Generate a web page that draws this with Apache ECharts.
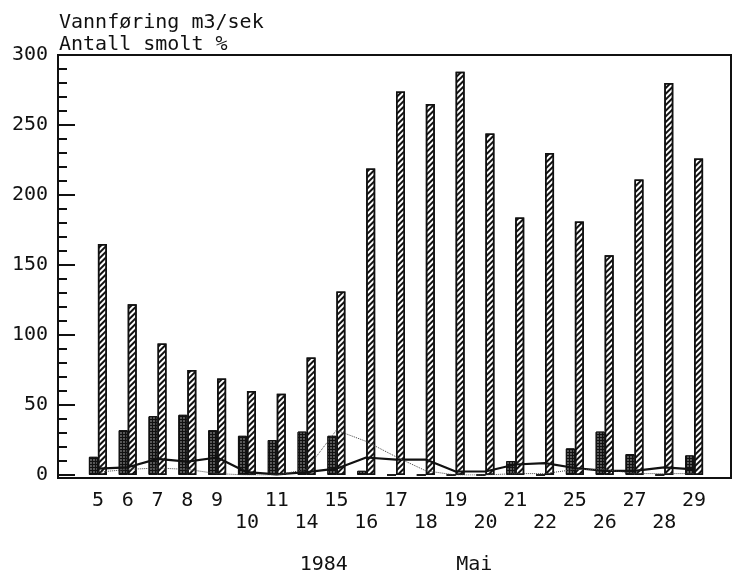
<!DOCTYPE html>
<html>
<head>
<meta charset="utf-8">
<script src="https://cdn.jsdelivr.net/npm/echarts@6/dist/echarts.min.js"></script>
<style>
  html, body { margin: 0; padding: 0; background: #fff; }
  #main { width: 732px; height: 580px; }
</style>
</head>
<body>
<div id="main"></div>
<script>
// Dager i mai 1984
const days = ['5', '6', '7', '8', '9', '10', '11', '14', '15', '16', '17', '18', '19', '20', '21', '22', '25', '26', '27', '28', '29'];
// Vannføring m3/sek (skraverte søyler)
const vannforing = [165, 122, 94, 75, 69, 60, 58, 84, 131, 219, 274, 265, 288, 244, 184, 230, 181, 157, 211, 280, 226];
// Antall smolt % (mørke søyler)
const smolt = [13, 32, 42, 43, 32, 28, 25, 31, 28, 3, 0, 0, 0, 0, 10, 0, 19, 31, 15, 0, 14];
// heltrukken linje
const lineSolid = [4.5, 5.5, 11.5, 9.5, 12.5, 2, 0.5, 2, 4.5, 12.5, 11, 11, 2.5, 2.5, 7.5, 8.5, 5, 3, 3, 5.5, 4];
// prikket linje
const lineDotted = [2, 4, 5, 4, 1, 0, 0, 4, 32, 24, 13, 3, 0, 0, 1, 1, 4, 4, 1, 1, 1];
const yTicks = [0, 300, 50];

const ink = '#111';
const font = 'DejaVu Sans Mono';

var myChart = echarts.init(document.getElementById('main'));
myChart.setOption({
    animation: false,
    backgroundColor: '#fff',
    title: {
        text: 'Vannføring m3/sek\nAntall smolt %',
        left: 54,
        top: 7,
        textStyle: {fontFamily: font, fontSize: 20, fontWeight: 'normal', color: ink, lineHeight: 22}
    },
    grid: [
        {left: 83, right: 23, top: 55, bottom: 102},
        // ramme rundt plottet
        {left: 58, right: 1, top: 55, bottom: 102, show: true, borderColor: ink, borderWidth: 2, backgroundColor: 'transparent'}
    ],
    xAxis: [{
        type: 'category',
        data: days,
        axisLine: {show: false},
        axisTick: {show: false},
        axisLabel: {
            interval: 0,
            margin: 15,
            fontFamily: font,
            fontSize: 20,
            lineHeight: 22,
            color: ink,
            formatter: function (val, idx) {
                return (idx >= 5 && idx % 2 === 1) ? '\n' + val : val;
            }
        },
        name: '1984         Mai',
        nameLocation: 'middle',
        nameGap: 80,
        nameTextStyle: {fontFamily: font, fontSize: 20, color: ink}
    }, {
        gridIndex: 1, type: 'value', show: false
    }],
    yAxis: [{
        type: 'value',
        min: yTicks[0],
        max: yTicks[1],
        interval: yTicks[2],
        offset: 25,
        axisLine: {show: true, lineStyle: {color: ink, width: 2}},
        axisTick: {show: true, inside: true, length: 17, lineStyle: {color: ink, width: 2}},
        minorTick: {show: true, splitNumber: 5, length: 9, lineStyle: {color: ink, width: 2}},
        splitLine: {show: false},
        axisLabel: {fontFamily: font, fontSize: 20, color: ink, margin: 10}
    }, {
        gridIndex: 1, type: 'value', show: false
    }],
    series: [
        {
            name: 'Antall smolt %',
            type: 'bar',
            barWidth: 9,
            barGap: '0%',
            data: smolt,
            itemStyle: {
                color: ink,
                borderColor: ink,
                borderWidth: 1,
                decal: {symbol: 'rect', symbolSize: 0.6, color: '#fff', dashArrayX: [2, 1], dashArrayY: [2, 1]}
            }
        },
        {
            name: 'Vannføring m3/sek',
            type: 'bar',
            barWidth: 9,
            data: vannforing,
            itemStyle: {
                color: '#fff',
                borderColor: ink,
                borderWidth: 1.5,
                decal: {symbol: 'rect', symbolSize: 1, color: ink, dashArrayX: [1, 0], dashArrayY: [2, 2], rotation: -Math.PI / 4}
            }
        },
        {
            type: 'line',
            data: lineSolid,
            symbol: 'none',
            lineStyle: {color: ink, width: 2.2}
        },
        {
            type: 'line',
            data: lineDotted,
            symbol: 'none',
            lineStyle: {color: '#444', width: 1, type: 'dotted'}
        }
    ]
});
</script>
</body>
</html>
